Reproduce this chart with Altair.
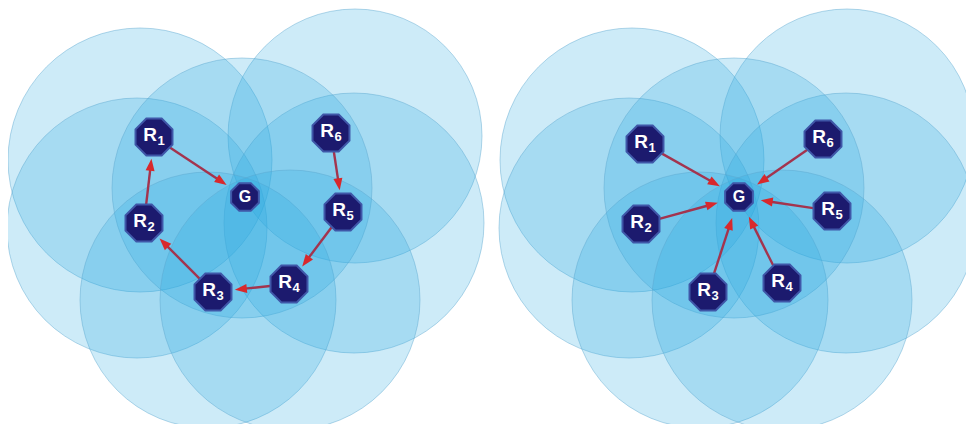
import math
import altair as alt
import pandas as pd

# ---------------- data (pixel coordinates of the left panel) ----------------
# coverage circles, shared by both panels
circle_x = [140, 355, 137, 354, 242, 208, 290]
circle_y = [160, 136, 228, 223, 188, 300, 300]
circle_r = [132, 127, 130, 130, 130, 128, 130]
panel_shift = [0, 492]

node_names = ["R1", "R2", "R3", "R4", "R5", "R6", "G"]
left_x = [154, 144, 213, 289, 343, 331, 245]
left_y = [137, 223, 292, 284, 212, 133, 197]
right_x = [645, 641, 708, 782, 832, 823, 739]
right_y = [144, 224, 292, 283, 211, 139, 197]

left_from = ["R1", "R2", "R3", "R4", "R5", "R6"]
left_to = ["G", "R1", "R2", "R3", "R4", "R5"]
right_from = ["R1", "R2", "R3", "R4", "R5", "R6"]
right_to = ["G", "G", "G", "G", "G", "G"]

# ---------------- tables ----------------
circles = pd.DataFrame(
    [
        {"x": cx + s, "y": cy, "size": (2 * r) ** 2}
        for s in panel_shift
        for cx, cy, r in zip(circle_x, circle_y, circle_r)
    ]
)

nodes = []
for xs, ys in [(left_x, left_y), (right_x, right_y)]:
    for n, x, y in zip(node_names, xs, ys):
        nodes.append(
            {
                "name": n,
                "x": x,
                "y": y,
                "main": n[0],
                "sub": n[1:] if len(n) > 1 else "",
                "size": 1600 if n != "G" else 900,
            }
        )
nodes = pd.DataFrame(nodes)

START_GAP = 19
TIP_GAP = 22
HEAD_LEN = 12

arrows = []
for xs, ys, fr, to in [
    (left_x, left_y, left_from, left_to),
    (right_x, right_y, right_from, right_to),
]:
    pos = {n: (x, y) for n, x, y in zip(node_names, xs, ys)}
    for a, b in zip(fr, to):
        sx, sy = pos[a]
        tx, ty = pos[b]
        d = math.hypot(tx - sx, ty - sy)
        ux, uy = (tx - sx) / d, (ty - sy) / d
        x0, y0 = sx + ux * START_GAP, sy + uy * START_GAP
        xt, yt = tx - ux * TIP_GAP, ty - uy * TIP_GAP
        xb, yb = xt - ux * (HEAD_LEN - 2), yt - uy * (HEAD_LEN - 2)
        xh, yh = xt - ux * HEAD_LEN / 2, yt - uy * HEAD_LEN / 2
        ang = math.degrees(math.atan2(ux, -uy)) % 360
        arrows.append(
            {"x0": x0, "y0": y0, "x1": xb, "y1": yb, "hx": xh, "hy": yh, "angle": ang}
        )
arrows = pd.DataFrame(arrows)

# ---------------- scales ----------------
W, H = 958, 416
xs_ = alt.Scale(domain=[8, 8 + W], nice=False, zero=False)
ys_ = alt.Scale(domain=[8, 8 + H], nice=False, zero=False, reverse=True)

octagon = (
    "M0.383,-0.924L0.924,-0.383L0.924,0.383L0.383,0.924"
    "L-0.383,0.924L-0.924,0.383L-0.924,-0.383L-0.383,-0.924Z"
)
head = "M0,-1L0.75,1L-0.75,1Z"

circle_layer = (
    alt.Chart(circles)
    .mark_point(
        shape="circle",
        filled=True,
        fill="#29a9e0",
        fillOpacity=0.23,
        stroke="#5aa6cf",
        strokeOpacity=0.45,
        strokeWidth=1,
    )
    .encode(
        x=alt.X("x:Q", scale=xs_, axis=None),
        y=alt.Y("y:Q", scale=ys_, axis=None),
        size=alt.Size("size:Q", scale=None, legend=None),
    )
)

shaft_layer = (
    alt.Chart(arrows)
    .mark_rule(color="#a3344e", strokeWidth=2.4)
    .encode(
        x=alt.X("x0:Q", scale=xs_, axis=None),
        y=alt.Y("y0:Q", scale=ys_, axis=None),
        x2="x1:Q",
        y2="y1:Q",
    )
)

head_layer = (
    alt.Chart(arrows)
    .mark_point(shape=head, filled=True, fill="#d8282c", opacity=1, size=HEAD_LEN ** 2)
    .encode(
        x=alt.X("hx:Q", scale=xs_, axis=None),
        y=alt.Y("hy:Q", scale=ys_, axis=None),
        angle=alt.Angle("angle:Q", scale=None),
    )
)

node_layer = (
    alt.Chart(nodes)
    .mark_point(
        shape=octagon,
        filled=True,
        fill="#1c1a6e",
        stroke="#3f57a8",
        strokeWidth=2,
        opacity=1,
    )
    .encode(
        x=alt.X("x:Q", scale=xs_, axis=None),
        y=alt.Y("y:Q", scale=ys_, axis=None),
        size=alt.Size("size:Q", scale=None, legend=None),
    )
)

r_text = (
    alt.Chart(nodes[nodes["main"] == "R"])
    .mark_text(
        font="Liberation Sans",
        fontWeight="bold",
        fontSize=19,
        color="white",
        dx=-4,
        dy=-2,
        baseline="middle",
        align="center",
    )
    .encode(
        x=alt.X("x:Q", scale=xs_, axis=None),
        y=alt.Y("y:Q", scale=ys_, axis=None),
        text="main:N",
    )
)

sub_text = (
    alt.Chart(nodes[nodes["main"] == "R"])
    .mark_text(
        font="Liberation Sans",
        fontWeight="bold",
        fontSize=13,
        color="white",
        dx=7,
        dy=4,
        baseline="middle",
        align="center",
    )
    .encode(
        x=alt.X("x:Q", scale=xs_, axis=None),
        y=alt.Y("y:Q", scale=ys_, axis=None),
        text="sub:N",
    )
)

g_text = (
    alt.Chart(nodes[nodes["main"] == "G"])
    .mark_text(
        font="Liberation Sans",
        fontWeight="bold",
        fontSize=16,
        color="white",
        baseline="middle",
        align="center",
    )
    .encode(
        x=alt.X("x:Q", scale=xs_, axis=None),
        y=alt.Y("y:Q", scale=ys_, axis=None),
        text="main:N",
    )
)

chart = (
    alt.layer(circle_layer, shaft_layer, head_layer, node_layer, r_text, sub_text, g_text)
    .properties(
        width=W,
        height=H,
        autosize=alt.AutoSizeParams(type="none"),
        padding=0,
        background="white",
    )
    .configure_view(strokeWidth=0)
)

chart.save("out.html", embed_options={"renderer": "svg", "actions": False})
